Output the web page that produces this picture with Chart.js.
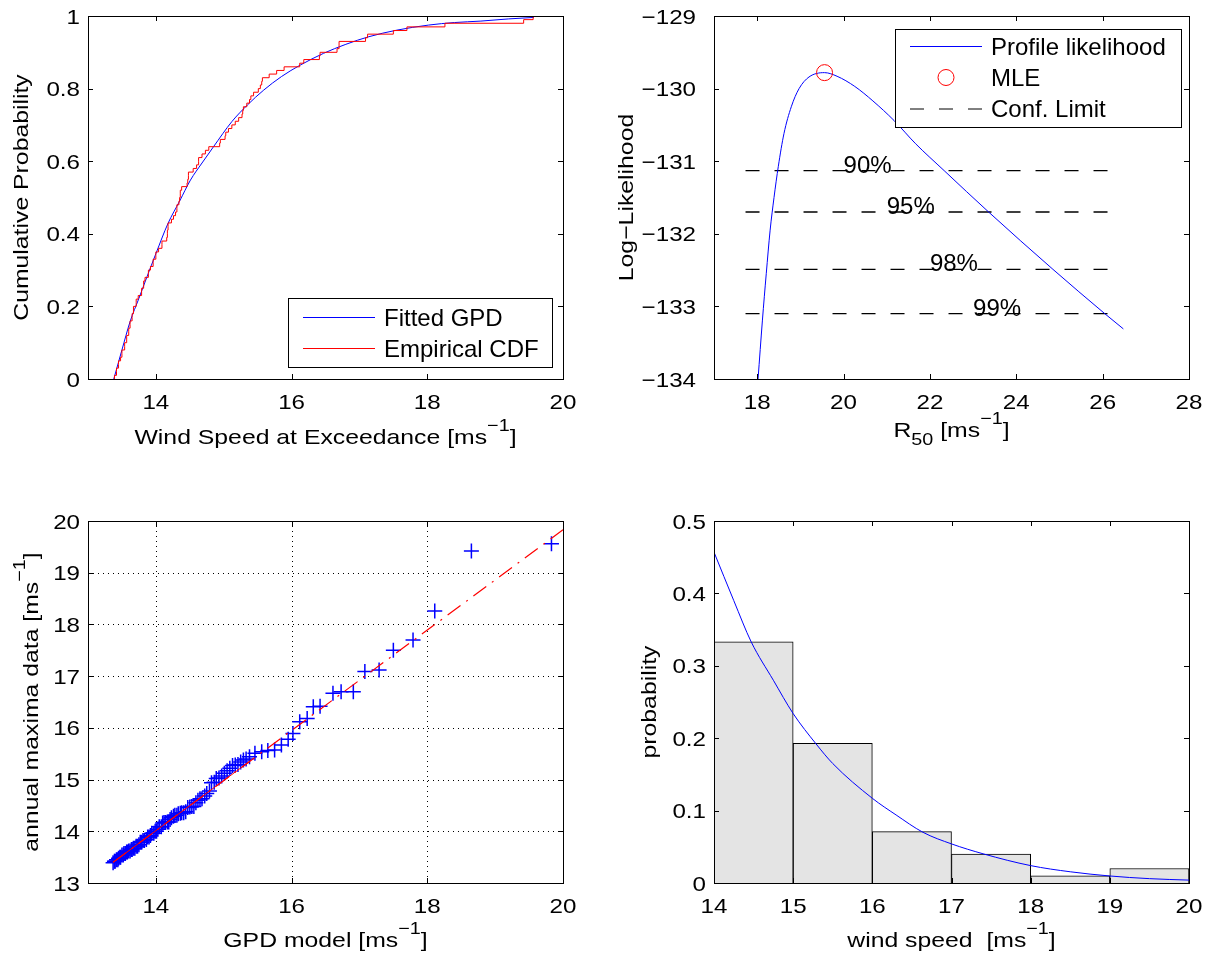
<!DOCTYPE html>
<html>
<head>
<meta charset="utf-8">
<script src="https://cdn.jsdelivr.net/npm/chart.js@4.4.1/dist/chart.umd.min.js"></script>
<style>
  html, body { margin: 0; padding: 0; background: #fff; }
  #fig { position: relative; width: 1214px; height: 961px; overflow: hidden; }
  #fig canvas { position: absolute; }
</style>
</head>
<body>
<div id="fig">
  <canvas id="cdf" width="607" height="480" style="left:0;top:0"></canvas>
  <canvas id="prof" width="607" height="480" style="left:607px;top:0"></canvas>
  <canvas id="qq" width="607" height="481" style="left:0;top:480px"></canvas>
  <canvas id="hist" width="607" height="481" style="left:607px;top:480px"></canvas>
</div>
<script>
// ---- fitted GPD cdf (top left)
const gpdX   = [13.38, 13.50, 13.62, 13.75, 13.87, 14.00, 14.18, 14.35, 14.51, 14.68, 14.85, 15.12, 15.35,
                15.59, 15.85, 16.13, 16.47, 16.80, 17.14, 17.55, 18.02, 18.40, 18.79, 19.20, 19.57];
const gpdCdf = [0, 0.080, 0.158, 0.222, 0.282, 0.345, 0.429, 0.490, 0.548, 0.595, 0.640, 0.709, 0.755,
                0.796, 0.833, 0.865, 0.897, 0.922, 0.943, 0.961, 0.975, 0.982, 0.986, 0.992, 0.996];

// ---- annual maxima, sorted (QQ y values, steps of the empirical cdf)
const annualMax = [
  13.39, 13.42, 13.42, 13.45, 13.45, 13.48, 13.50, 13.50, 13.54, 13.54,
  13.57, 13.57, 13.60, 13.60, 13.62, 13.62, 13.65, 13.65, 13.67, 13.67,
  13.71, 13.71, 13.74, 13.79, 13.79, 13.82, 13.82, 13.84, 13.89, 13.89,
  13.92, 13.96, 13.96, 14.00, 14.00, 14.04, 14.09, 14.09, 14.16, 14.17,
  14.17, 14.18, 14.18, 14.23, 14.26, 14.29, 14.31, 14.31, 14.34, 14.35,
  14.36, 14.36, 14.38, 14.46, 14.47, 14.48, 14.48, 14.55, 14.60, 14.63,
  14.63, 14.68, 14.73, 14.78, 14.94, 14.95, 15.02, 15.03, 15.07, 15.12,
  15.17, 15.22, 15.27, 15.28, 15.29, 15.34, 15.38, 15.40, 15.44,
  15.51, 15.54, 15.56, 15.57, 15.67, 15.78, 15.89, 16.12, 16.18, 16.41,
  16.42, 16.67, 16.70, 16.70, 17.09, 17.12, 17.50, 17.70, 18.26, 19.42, 19.56
];
// ---- GPD model quantiles (QQ x values)
const gpdQuant = [
  13.37, 13.39, 13.40, 13.42, 13.44, 13.45, 13.47, 13.48, 13.50, 13.52,
  13.53, 13.55, 13.57, 13.58, 13.60, 13.62, 13.64, 13.65, 13.67, 13.69,
  13.71, 13.73, 13.75, 13.77, 13.79, 13.81, 13.83, 13.86, 13.88, 13.90,
  13.92, 13.94, 13.97, 13.99, 14.01, 14.03, 14.05, 14.08, 14.10, 14.12,
  14.14, 14.17, 14.19, 14.21, 14.23, 14.26, 14.28, 14.31, 14.33, 14.36,
  14.38, 14.41, 14.44, 14.47, 14.50, 14.53, 14.56, 14.59, 14.62, 14.65,
  14.68, 14.72, 14.75, 14.79, 14.82, 14.86, 14.89, 14.93, 14.97, 15.01,
  15.05, 15.09, 15.13, 15.17, 15.21, 15.25, 15.29, 15.33, 15.38,
  15.46, 15.56, 15.65, 15.75, 15.85, 15.95, 16.02, 16.12, 16.23, 16.32,
  16.42, 16.61, 16.73, 16.91, 17.08, 17.29, 17.50, 17.79, 18.11, 18.65, 19.83
];
// QQ reference line (solid part + dash-dot extension)
const qqSolidX = [13.37, 15.38];
const qqSolidY = [13.40, 15.35];
const qqLineX  = [13.37, 20.00];
const qqLineY  = [13.40, 19.83];

// ---- profile likelihood of R50 (top right)
const r50    = [18.02, 18.12, 18.21, 18.30, 18.39, 18.49, 18.62, 18.79, 18.97, 19.20, 19.56, 19.85,
                20.26, 20.68, 21.17, 21.67, 22.33, 23.36, 24.85, 26.05, 26.48];
const logLik = [-134.00, -133.20, -132.55, -131.95, -131.50, -131.07, -130.62, -130.25, -130.00, -129.84,
                -129.78, -129.83, -129.97, -130.17, -130.44, -130.76, -131.13, -131.70, -132.49, -133.10,
                -133.31];
const mleR50 = 19.56, mleLogLik = -129.78;
const confNames  = ['90%', '95%', '98%', '99%'];
const confLevels = [-131.13, -131.70, -132.49, -133.10];
const confTextX  = [20, 21, 22, 23];
const confFrom = 17.73, confTo = 26.30;

// ---- histogram + fitted pdf (bottom right)
const binLeft = [14, 15, 16, 17, 18, 19];
const binProb = [0.333, 0.193, 0.071, 0.040, 0.010, 0.020];
const pdfX = [14.0, 14.25, 14.47, 14.75, 15.0, 15.29, 15.5, 16.0, 16.3, 16.64, 17.0, 17.41, 18.0, 18.5, 19.0, 19.5, 20.0];
const pdfY = [0.457, 0.390, 0.333, 0.280, 0.234, 0.192, 0.165, 0.117, 0.094, 0.070, 0.054, 0.040, 0.024, 0.0155, 0.0097, 0.006, 0.004];

// ---- ticks
const cdfXTicks  = [14, 16, 18, 20];
const cdfYTicks  = [0, 0.2, 0.4, 0.6, 0.8, 1];
const profXTicks = [18, 20, 22, 24, 26, 28];
const profYTicks = [-134, -133, -132, -131, -130, -129];
const qqXTicks   = [14, 16, 18, 20];
const qqYTicks   = [13, 14, 15, 16, 17, 18, 19, 20];
const histXTicks = [14, 15, 16, 17, 18, 19, 20];
const histYTicks = [0, 0.1, 0.2, 0.3, 0.4, 0.5];

const FONT = '"Liberation Sans", Arial, Helvetica, sans-serif';
const BLUE = '#0000ff', RED = '#ff0000';
const fmt = v => (v < 0 ? '\u2212' + Math.abs(v) : String(v));
const pts = (xs, ys) => xs.map((x, i) => ({ x: x, y: ys[i] }));

// text with super/subscripts, optional horizontal stretch and rotation; y is the baseline
function richText(ctx, parts, x, y, o) {
  const fs = o.size, sx = o.sx || 1;
  ctx.save();
  ctx.translate(x, y);
  if (o.rotate) ctx.rotate(o.rotate);
  ctx.scale(sx, 1);
  ctx.fillStyle = '#000';
  ctx.textBaseline = 'alphabetic';
  ctx.textAlign = 'left';
  const sizes = parts.map(p => (p.sup || p.sub ? fs * 0.8 : fs));
  let w = 0;
  parts.forEach((p, i) => { ctx.font = sizes[i] + 'px ' + FONT; w += ctx.measureText(p.t).width; });
  let cx = o.align === 'center' ? -w / 2 : (o.align === 'right' ? -w : 0);
  parts.forEach((p, i) => {
    ctx.font = sizes[i] + 'px ' + FONT;
    const dy = p.sup ? -fs * 0.6 : (p.sub ? fs * 0.4 : 0);
    ctx.fillText(p.t, cx, dy);
    cx += ctx.measureText(p.t).width;
  });
  ctx.restore();
}

// matlab style box: inward ticks on all sides, labels, titles, optional dotted grid
const matlabAxes = {
  id: 'matlabAxes',
  beforeDatasetsDraw(chart, args, o) {
    if (!o.grid) return;
    const { ctx, chartArea: a, scales: { x, y } } = chart;
    ctx.save();
    ctx.strokeStyle = '#000';
    ctx.lineWidth = 1;
    ctx.setLineDash([1, 4]);
    ctx.beginPath();
    o.xTicks.forEach(v => {
      const px = Math.round(x.getPixelForValue(v)) + 0.5;
      ctx.moveTo(px, a.top); ctx.lineTo(px, a.bottom);
    });
    o.yTicks.forEach(v => {
      const py = Math.round(y.getPixelForValue(v)) + 0.5;
      ctx.moveTo(a.left, py); ctx.lineTo(a.right, py);
    });
    ctx.stroke();
    ctx.restore();
  },
  afterDatasetsDraw(chart, args, o) {
    const { ctx, chartArea: a, scales: { x, y } } = chart;
    ctx.save();
    ctx.strokeStyle = '#000';
    ctx.lineWidth = 1;
    ctx.setLineDash([]);
    ctx.strokeRect(Math.round(a.left) + 0.5, Math.round(a.top) + 0.5,
                   Math.round(a.right - a.left), Math.round(a.bottom - a.top));
    const tl = 5;
    ctx.beginPath();
    o.xTicks.forEach(v => {
      const px = Math.round(x.getPixelForValue(v)) + 0.5;
      ctx.moveTo(px, a.bottom); ctx.lineTo(px, a.bottom - tl);
      ctx.moveTo(px, a.top); ctx.lineTo(px, a.top + tl);
    });
    o.yTicks.forEach(v => {
      const py = Math.round(y.getPixelForValue(v)) + 0.5;
      ctx.moveTo(a.left, py); ctx.lineTo(a.left + tl, py);
      ctx.moveTo(a.right, py); ctx.lineTo(a.right - tl, py);
    });
    ctx.stroke();
    o.xTicks.forEach(v => richText(ctx, [{ t: fmt(v) }], x.getPixelForValue(v), a.bottom + 29.5,
                                   { size: 21, sx: 1.15, align: 'center' }));
    o.yTicks.forEach(v => richText(ctx, [{ t: fmt(v) }], a.left - o.yGap, y.getPixelForValue(v) + 7.5,
                                   { size: 21, sx: 1.15, align: 'right' }));
    richText(ctx, o.xTitle, (a.left + a.right) / 2, o.xTitleY, { size: 21, sx: 1.18, align: 'center' });
    richText(ctx, o.yTitle, o.yTitleX, (a.top + a.bottom) / 2, { size: 21, sx: 1.18, align: 'center', rotate: -Math.PI / 2 });
    ctx.restore();
  }
};

// boxed legend drawn on top of the axes
const boxLegend = {
  id: 'boxLegend',
  afterDraw(chart, args, o) {
    if (!o.items) return;
    const ctx = chart.ctx;
    const [l, t, r, b] = o.box;
    ctx.save();
    ctx.fillStyle = '#fff';
    ctx.fillRect(l, t, r - l, b - t);
    ctx.strokeStyle = '#000';
    ctx.lineWidth = 1;
    ctx.strokeRect(l + 0.5, t + 0.5, r - l, b - t);
    o.items.forEach(it => {
      const ds = chart.data.datasets[it.ds];
      ctx.strokeStyle = ds.borderColor;
      ctx.lineWidth = 1;
      ctx.beginPath();
      if (it.marker) {
        ctx.arc((o.x0 + o.x1) / 2, it.y, ds.pointRadius, 0, 2 * Math.PI);
      } else {
        ctx.setLineDash(ds.borderDash || []);
        ctx.moveTo(o.x0, it.y + 0.5);
        ctx.lineTo(o.x1, it.y + 0.5);
      }
      ctx.stroke();
      ctx.setLineDash([]);
      richText(ctx, [{ t: ds.label }], o.textX, it.y + 8.6, { size: 24, align: 'left' });
    });
    ctx.restore();
  }
};

// percentage labels on the confidence limits
const confText = {
  id: 'confText',
  afterDatasetsDraw(chart, args, o) {
    if (!o.names) return;
    const { ctx, scales: { x, y } } = chart;
    o.names.forEach((n, i) => richText(ctx, [{ t: n }], x.getPixelForValue(o.xs[i]),
                                       y.getPixelForValue(o.levels[i]) + 2, { size: 24, align: 'left' }));
  }
};

function axes(xmin, xmax, ymin, ymax) {
  return {
    x: { type: 'linear', min: xmin, max: xmax, display: false, offset: false },
    y: { type: 'linear', min: ymin, max: ymax, display: false }
  };
}
const common = { responsive: false, animation: false, devicePixelRatio: 1, events: [] };

// ---------------- top left: cdf ----------------
const ecdf = [{ x: annualMax[0], y: 0 }];
annualMax.forEach((v, i) => ecdf.push({ x: v, y: (i + 1) / annualMax.length }));

new Chart(document.getElementById('cdf'), {
  type: 'scatter',
  data: {
    datasets: [
      { label: 'Fitted GPD', data: pts(gpdX, gpdCdf), showLine: true, borderColor: BLUE, borderWidth: 1,
        pointRadius: 0, cubicInterpolationMode: 'monotone', order: 1 },
      { label: 'Empirical CDF', data: ecdf, showLine: true, stepped: 'before', borderColor: RED, borderWidth: 1,
        pointRadius: 0, order: 0 }
    ]
  },
  options: {
    ...common,
    layout: { padding: { left: 88, top: 16, right: 44, bottom: 101 } },
    scales: axes(13, 20, 0, 1),
    plugins: {
      legend: { display: false }, tooltip: { enabled: false },
      matlabAxes: {
        xTicks: cdfXTicks, yTicks: cdfYTicks, yGap: 8,
        xTitle: [{ t: 'Wind Speed at Exceedance [ms' }, { t: '\u22121', sup: true }, { t: ']' }], xTitleY: 444,
        yTitle: [{ t: 'Cumulative Probability' }], yTitleX: 28
      },
      boxLegend: { box: [288, 298, 552, 367], x0: 303, x1: 375, textX: 384,
                   items: [{ ds: 0, y: 317 }, { ds: 1, y: 348 }] }
    }
  },
  plugins: [matlabAxes, boxLegend]
});

// ---------------- top right: profile likelihood ----------------
const confSets = confLevels.map(lv => ({
  label: 'Conf. Limit', data: pts([confFrom, confTo], [lv, lv]), showLine: true,
  borderColor: '#000', borderWidth: 1.3, borderDash: [14, 15], pointRadius: 0, order: 3
}));

new Chart(document.getElementById('prof'), {
  type: 'scatter',
  data: {
    datasets: [
      { label: 'Profile likelihood', data: pts(r50, logLik), showLine: true, borderColor: BLUE, borderWidth: 1,
        pointRadius: 0, cubicInterpolationMode: 'monotone', order: 1 },
      { label: 'MLE', data: [{ x: mleR50, y: mleLogLik }], showLine: false, borderColor: RED, borderWidth: 1,
        backgroundColor: 'rgba(0,0,0,0)', pointRadius: 8, pointStyle: 'circle', order: 0 },
      ...confSets
    ]
  },
  options: {
    ...common,
    layout: { padding: { left: 107, top: 16, right: 25, bottom: 101 } },
    scales: axes(17, 28, -134, -129),
    plugins: {
      legend: { display: false }, tooltip: { enabled: false },
      matlabAxes: {
        xTicks: profXTicks, yTicks: profYTicks, yGap: 18,
        xTitle: [{ t: 'R' }, { t: '50', sub: true }, { t: ' [ms' }, { t: '\u22121', sup: true }, { t: ']' }], xTitleY: 437,
        yTitle: [{ t: 'Log\u2212Likelihood' }], yTitleX: 26
      },
      confText: { names: confNames, levels: confLevels, xs: confTextX },
      boxLegend: { box: [288, 29, 574, 127], x0: 303, x1: 375, textX: 384,
                   items: [{ ds: 0, y: 46 }, { ds: 1, y: 77.5, marker: true }, { ds: 2, y: 108.5 }] }
    }
  },
  plugins: [matlabAxes, confText, boxLegend]
});

// ---------------- bottom left: QQ plot ----------------
new Chart(document.getElementById('qq'), {
  type: 'scatter',
  data: {
    datasets: [
      { label: 'fit', data: pts(qqSolidX, qqSolidY), showLine: true, borderColor: RED, borderWidth: 1, pointRadius: 0, order: 0 },
      { label: 'extension', data: pts(qqLineX, qqLineY), showLine: true, borderColor: RED, borderWidth: 1.2,
        borderDash: [16, 7, 2, 7], pointRadius: 0, order: 1 },
      { label: 'data', data: pts(gpdQuant, annualMax), showLine: false, pointStyle: 'cross', pointRadius: 7.5,
        borderColor: BLUE, borderWidth: 1.5, order: 2 }
    ]
  },
  options: {
    ...common,
    layout: { padding: { left: 88, top: 41, right: 44, bottom: 78 } },
    scales: axes(13, 20, 13, 20),
    plugins: {
      legend: { display: false }, tooltip: { enabled: false },
      matlabAxes: {
        xTicks: qqXTicks, yTicks: qqYTicks, yGap: 8, grid: true,
        xTitle: [{ t: 'GPD model [ms' }, { t: '\u22121', sup: true }, { t: ']' }], xTitleY: 467,
        yTitle: [{ t: 'annual maxima data [ms' }, { t: '\u22121', sup: true }, { t: ']' }], yTitleX: 38
      }
    }
  },
  plugins: [matlabAxes]
});

// ---------------- bottom right: histogram ----------------
new Chart(document.getElementById('hist'), {
  type: 'bar',
  data: {
    datasets: [
      { type: 'line', label: 'GPD pdf', data: pts(pdfX, pdfY), borderColor: BLUE, borderWidth: 1, pointRadius: 0,
        cubicInterpolationMode: 'monotone', order: 0 },
      { type: 'bar', label: 'probability', data: pts(binLeft.map(v => v + 0.5), binProb), backgroundColor: '#e4e4e4',
        borderColor: '#000', borderWidth: 1, barPercentage: 1, categoryPercentage: 1, order: 1 }
    ]
  },
  options: {
    ...common,
    layout: { padding: { left: 107, top: 41, right: 25, bottom: 78 } },
    scales: axes(14, 20, 0, 0.5),
    plugins: {
      legend: { display: false }, tooltip: { enabled: false },
      matlabAxes: {
        xTicks: histXTicks, yTicks: histYTicks, yGap: 8,
        xTitle: [{ t: 'wind speed  [ms' }, { t: '\u22121', sup: true }, { t: ']' }], xTitleY: 467,
        yTitle: [{ t: 'probability' }], yTitleX: 49
      }
    }
  },
  plugins: [matlabAxes]
});
</script>
</body>
</html>
